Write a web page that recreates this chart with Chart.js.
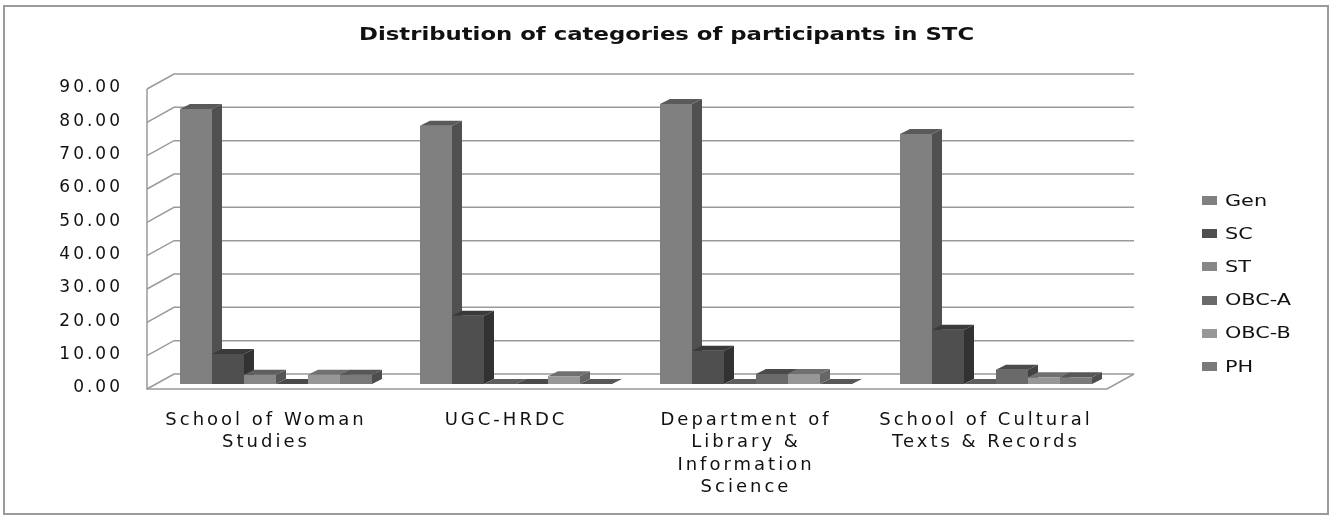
<!DOCTYPE html>
<html>
<head>
<meta charset="utf-8">
<title>Distribution of categories of participants in STC</title>
<script src="https://cdn.jsdelivr.net/npm/chart.js@4.4.1/dist/chart.umd.min.js"></script>
<style>
  html, body { margin: 0; padding: 0; background: #fff; }
  body { position: relative; width: 1334px; height: 520px; overflow: hidden; font-family: "DejaVu Sans", sans-serif; color: #111; }
  #frame { position: absolute; left: 3px; top: 5px; width: 1322px; height: 506px; border: 2px solid #9a9a9a; }
  #chart { position: absolute; left: 0; top: 0; }
  #title { position: absolute; left: 0; top: 24px; width: 1334px; text-align: center; font: bold 17px/20px "DejaVu Sans", sans-serif; }
  #title span { display: inline-block; transform-origin: center; white-space: nowrap; }
  #legend { position: absolute; left: 1202px; top: 184px; margin: 0; padding: 0; list-style: none; }
  #legend li { display: flex; align-items: center; height: 33.2px; font: 16px/20px "DejaVu Sans", sans-serif; white-space: nowrap; }
  #legend .swatch { width: 15px; height: 9px; margin-right: 8px; }
  #legend .label { display: inline-block; transform: scaleX(1.3); transform-origin: left center; }
</style>
</head>
<body>
<div id="frame"></div>
<canvas id="chart" width="1334" height="520"></canvas>
<div id="title"><span>Distribution of categories of participants in STC</span></div>
<ul id="legend"></ul>
<script>
const categories = [
  ['School of Woman', 'Studies'],
  'UGC-HRDC',
  ['Department of', 'Library &', 'Information', 'Science'],
  ['School of Cultural', 'Texts & Records'],
];
const seriesNames = ['Gen', 'SC', 'ST', 'OBC-A', 'OBC-B', 'PH'];
const genValues = [82.5, 77.5, 84.0, 75.0];
const scValues = [9.0, 20.5, 10.0, 16.3];
const stValues = [2.8, 0, 0, 0];
const obcAValues = [0, 0, 3.0, 4.3];
const obcBValues = [2.8, 2.3, 3.0, 2.0];
const phValues = [2.8, 0, 0, 2.0];
const seriesValues = [genValues, scValues, stValues, obcAValues, obcBValues, phValues];
const yMax = 90;
const yStep = 10;

// front / right side / top face shades for each series
const frontColors = ['#808080', '#4f4f4f', '#878787', '#6a6a6a', '#979797', '#7a7a7a'];
const sideColors = ['#505050', '#323232', '#555555', '#424242', '#666666', '#4e4e4e'];
const topColors = ['#5a5a5a', '#3a3a3a', '#5f5f5f', '#4a4a4a', '#707070', '#575757'];

// 3d offsets relative to the plane the bars stand in
const FRONT = { dx: -9, dy: 5 };
const BACK = { dx: 18, dy: -10 };
const BAR_DEPTH = { dx: 10, dy: -5 };

const textSpacing = {
  id: 'textSpacing',
  beforeUpdate(chart) { chart.ctx.letterSpacing = '3px'; },
  beforeDraw(chart) { chart.ctx.letterSpacing = '3px'; },
};

const fakeThreeD = {
  id: 'fakeThreeD',
  beforeDatasetsDraw(chart) {
    const { ctx, chartArea } = chart;
    const { left, right } = chartArea;
    const yScale = chart.scales.y;
    const y0 = yScale.getPixelForValue(0);
    const yTop = yScale.getPixelForValue(yMax);

    ctx.save();
    ctx.strokeStyle = '#9a9a9a';
    ctx.lineWidth = 1.5;

    // walls: side wall diagonals + back wall gridlines
    yScale.ticks.forEach((tick) => {
      const y = yScale.getPixelForValue(tick.value);
      ctx.beginPath();
      ctx.moveTo(left + FRONT.dx, y + FRONT.dy);
      ctx.lineTo(left + BACK.dx, y + BACK.dy);
      ctx.lineTo(right + BACK.dx, y + BACK.dy);
      ctx.stroke();
    });

    ctx.beginPath();
    ctx.moveTo(left + FRONT.dx, yTop + FRONT.dy);
    ctx.lineTo(left + FRONT.dx, y0 + FRONT.dy);
    ctx.lineTo(right + FRONT.dx, y0 + FRONT.dy);
    ctx.lineTo(right + BACK.dx, y0 + BACK.dy);
    ctx.stroke();

    // bars, left to right so each one hides the side of the previous one
    const metas = chart.getSortedVisibleDatasetMetas();
    for (let i = 0; i < categories.length; i += 1) {
      metas.forEach((meta) => {
        const bar = meta.data[i];
        const { x, y, base, width } = bar.getProps(['x', 'y', 'base', 'width'], true);
        const l = x - width / 2;
        const r = x + width / 2;
        const idx = meta.index;

        ctx.fillStyle = frontColors[idx];
        ctx.fillRect(l, y, width, base - y);

        ctx.fillStyle = sideColors[idx];
        ctx.beginPath();
        ctx.moveTo(r, y);
        ctx.lineTo(r + BAR_DEPTH.dx, y + BAR_DEPTH.dy);
        ctx.lineTo(r + BAR_DEPTH.dx, base + BAR_DEPTH.dy);
        ctx.lineTo(r, base);
        ctx.closePath();
        ctx.fill();

        ctx.fillStyle = topColors[idx];
        ctx.beginPath();
        ctx.moveTo(l, y);
        ctx.lineTo(l + BAR_DEPTH.dx, y + BAR_DEPTH.dy);
        ctx.lineTo(r + BAR_DEPTH.dx, y + BAR_DEPTH.dy);
        ctx.lineTo(r, y);
        ctx.closePath();
        ctx.fill();
      });
    }

    ctx.restore();
    return false;
  },
};

new Chart(document.getElementById('chart'), {
  type: 'bar',
  data: {
    labels: categories,
    datasets: seriesNames.map((name, i) => ({
      label: name,
      data: seriesValues[i],
      backgroundColor: frontColors[i],
    })),
  },
  options: {
    responsive: false,
    animation: false,
    layout: { padding: { top: 84, right: 218, bottom: 0, left: 0 } },
    datasets: { bar: { categoryPercentage: 0.8, barPercentage: 1 } },
    plugins: {
      legend: { display: false },
      tooltip: { enabled: false },
    },
    scales: {
      x: {
        grid: { display: false, drawTicks: false },
        border: { display: false },
        ticks: {
          color: '#111',
          font: { family: 'DejaVu Sans', size: 18, lineHeight: 1.25 },
          padding: 25,
          labelOffset: -10,
          maxRotation: 0,
          autoSkip: false,
        },
        afterFit(scale) { scale.height = 136; },
      },
      y: {
        min: 0,
        max: yMax,
        grid: { display: false, drawTicks: false },
        border: { display: false },
        ticks: {
          stepSize: yStep,
          color: '#111',
          font: { family: 'DejaVu Sans', size: 17 },
          padding: 33,
          labelOffset: 4,
          callback: (value) => Number(value).toFixed(2),
        },
        afterFit(scale) { scale.width = 156; },
      },
    },
  },
  plugins: [textSpacing, fakeThreeD],
});

// html legend
const legendEl = document.getElementById('legend');
seriesNames.forEach((name, i) => {
  const li = document.createElement('li');
  const swatch = document.createElement('span');
  swatch.className = 'swatch';
  swatch.style.background = frontColors[i];
  const label = document.createElement('span');
  label.className = 'label';
  label.textContent = name;
  li.append(swatch, label);
  legendEl.appendChild(li);
});

// stretch the title to the width it has in the picture
const titleSpan = document.querySelector('#title span');
titleSpan.style.transform = `scaleX(${615 / titleSpan.offsetWidth})`;
</script>
</body>
</html>
